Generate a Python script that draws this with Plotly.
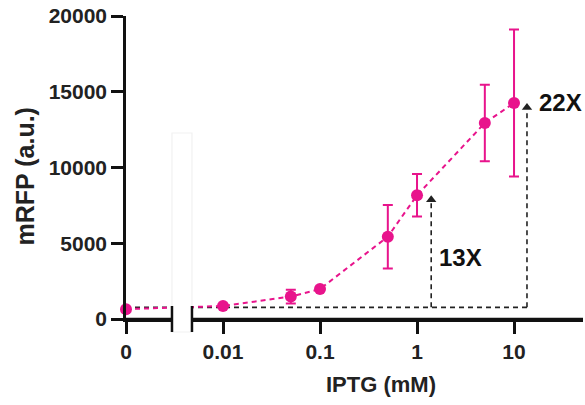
import numpy as np
import plotly.graph_objects as go

# ---- data ----
iptg_mM = [0, 0.01, 0.05, 0.1, 0.5, 1, 5, 10]
tick_labels = ["0", "0.01", "0.1", "1", "10"]
tick_values = [0, 0.01, 0.1, 1, 10]
mrfp_mean = [650, 860, 1480, 1980, 5430, 8170, 12940, 14260]
mrfp_err = [100, 100, 450, 150, 2100, 1400, 2520, 4850]
fold_labels = ["13X", "22X"]
fold_index = [5, 7]          # which point each arrow reaches
arrow_x = [1.4, 13.6]        # x position of each arrow
label_x = [1.6, 17.3]
label_y = [4090, 14260]
baseline = 770

# ---- style ----
PINK = "#E8148C"
TXT = "#222222"
FONT = "Liberation Sans, Arial, sans-serif"
ZERO_POS = 0.001             # where the "0" concentration is drawn on the log axis
XR = [-3.0, 1.711]
BREAK = [-2.526, -2.32]      # log10 positions of axis break edges

W, H = 585, 405
ML, MR, MT, MB = 126, 2, 16, 86

def xplot(v):
    return ZERO_POS if v == 0 else v

xs = [xplot(v) for v in iptg_mM]

fig = go.Figure()

# black dashed baseline and arrows
fig.add_trace(go.Scatter(
    x=[ZERO_POS, arrow_x[1]], y=[baseline, baseline], mode="lines",
    line=dict(color="#222222", width=1.6, dash="5px,4px"),
    hoverinfo="skip", showlegend=False))
for ax_, idx in zip(arrow_x, fold_index):
    tip = mrfp_mean[idx]
    fig.add_trace(go.Scatter(
        x=[ax_, ax_], y=[baseline, tip - 500], mode="lines",
        line=dict(color="#222222", width=1.6, dash="5px,4px"),
        hoverinfo="skip", showlegend=False))
    fig.add_trace(go.Scatter(
        x=[ax_], y=[tip - 300], mode="markers",
        marker=dict(symbol="triangle-up", size=9, color="#222222"),
        hoverinfo="skip", showlegend=False, cliponaxis=False))

# main data
fig.add_trace(go.Scatter(
    x=xs, y=mrfp_mean, mode="lines+markers",
    line=dict(color=PINK, width=2, dash="5px,4px"),
    marker=dict(color=PINK, size=12),
    error_y=dict(type="data", array=mrfp_err, visible=True, color=PINK,
                 thickness=2, width=5),
    cliponaxis=False, showlegend=False))

tickfont = dict(family=FONT, size=21, color=TXT, weight="bold")

fig.update_layout(
    template="none",
    width=W, height=H, autosize=False,
    margin=dict(l=ML, r=MR, t=MT, b=MB, autoexpand=False),
    paper_bgcolor="white", plot_bgcolor="white",
    xaxis=dict(type="log", range=XR, showgrid=False, zeroline=False, automargin=False,
               showline=True, linecolor="#111111", linewidth=2.5,
               ticks="outside", ticklen=12, tickwidth=2.5, tickcolor="#111111",
               tickvals=[xplot(v) for v in tick_values], ticktext=tick_labels,
               tickfont=tickfont),
    yaxis=dict(range=[0, 20000], showgrid=False, zeroline=False, automargin=False,
               showline=True, linecolor="#111111", linewidth=2.5,
               ticks="outside", ticklen=12, tickwidth=2.5, tickcolor="#111111",
               tickvals=[0, 5000, 10000, 15000, 20000], tickformat="d",
               tickfont=tickfont),
)

# axis break: white box hiding the gap, plus end caps
pw = W - ML - MR
ph = H - MT - MB
def px_x(logv):
    return (logv - XR[0]) / (XR[1] - XR[0])
cap = 13 / ph
fig.add_shape(type="rect", xref="paper", yref="paper",
              x0=px_x(BREAK[0]), x1=px_x(BREAK[1]), y0=-cap, y1=186 / ph,
              fillcolor="white", line=dict(color="#f1f1f1", width=1.2),
              layer="above")
for b in BREAK:
    fig.add_shape(type="line", xref="paper", yref="paper",
                  x0=px_x(b), x1=px_x(b), y0=-cap, y1=cap,
                  line=dict(color="#111111", width=2.5), layer="above")
fig.add_shape(type="line", xref="paper", yref="paper",
              x0=0, x1=px_x(BREAK[0]), y0=0, y1=0,
              line=dict(color="#111111", width=2.5), layer="above")
fig.add_shape(type="line", xref="paper", yref="paper",
              x0=px_x(BREAK[1]), x1=1, y0=0, y1=0,
              line=dict(color="#111111", width=2.5), layer="above")

# fold-change labels
for t, lx, ly in zip(fold_labels, label_x, label_y):
    fig.add_annotation(x=np.log10(lx), y=ly, xref="x", yref="y", text=t,
                       showarrow=False, xanchor="left", yanchor="middle",
                       font=dict(family=FONT, size=24, color="#111111", weight="bold"))

# axis titles
fig.add_annotation(x=(381 - ML) / pw, y=-65 / ph, xref="paper", yref="paper",
                   text="IPTG (mM)", showarrow=False, xanchor="center", yanchor="middle",
                   font=dict(family=FONT, size=22, color=TXT, weight="bold"))
fig.add_annotation(x=(24 - ML) / pw, y=0.5 - 9 / ph, xref="paper", yref="paper",
                   text="mRFP (a.u.)", showarrow=False, textangle=-90,
                   xanchor="center", yanchor="middle",
                   font=dict(family=FONT, size=25, color=TXT, weight="bold"))

fig.write_html("out.html", config={"displayModeBar": False},
               post_script="document.body.style.margin='0';document.body.style.overflow='hidden';")
